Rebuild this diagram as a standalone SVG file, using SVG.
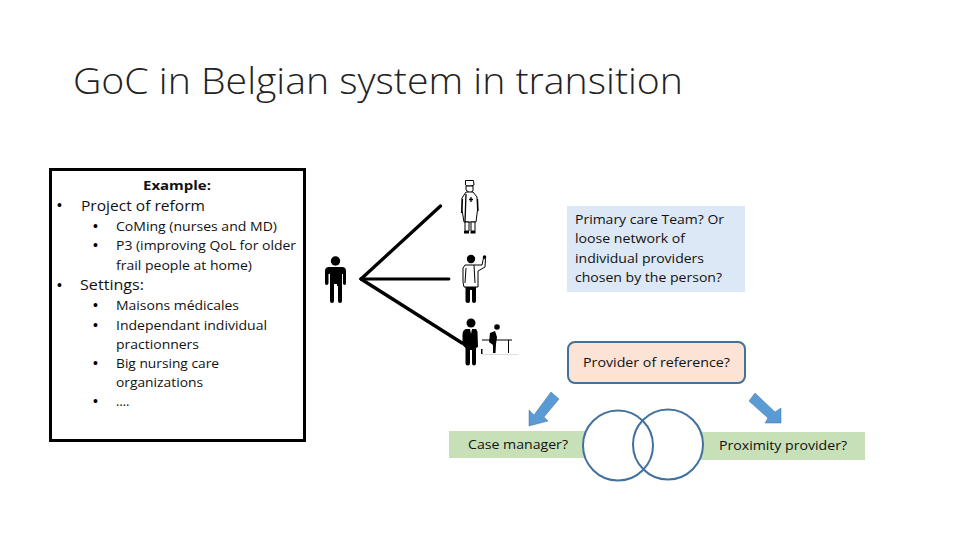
<svg xmlns="http://www.w3.org/2000/svg" width="960" height="540" viewBox="0 0 960 540">
<style>
text{font-family:"Open Sans","Liberation Sans",sans-serif;fill:#111}
.t{font-size:13px}
.h{font-size:15px}
.b{font-family:"Liberation Sans",sans-serif;font-size:14px;fill:#000}
.k{fill:#000}
.w{fill:#fff;stroke:#000;stroke-width:1}
.c{fill:none;stroke:#41719c;stroke-width:2}
.a{fill:#5b9bd5;stroke:#41719c;stroke-width:.5}
.g{fill:#c7e0b8}
</style>
<rect width="960" height="540" fill="#fff"/>
<g id="title"><text x="73" y="94" font-size="37" font-weight="300" textLength="610" lengthAdjust="spacingAndGlyphs" style="fill:#222">GoC in Belgian system in transition</text></g>
<g id="example-box">
<rect x="50.500" y="169.500" width="254" height="271" fill="#fff" stroke="#000" stroke-width="3"/>
<text x="143" y="190" class="t" font-weight="700" textLength="68" lengthAdjust="spacingAndGlyphs">Example:</text>
<text x="57" y="210" class="b">•</text><text x="81" y="211" class="h" textLength="124" lengthAdjust="spacingAndGlyphs">Project of reform</text>
<text x="93" y="231" class="b">•</text><text x="116" y="231" class="t" textLength="161" lengthAdjust="spacingAndGlyphs">CoMing (nurses and MD)</text>
<text x="93" y="250" class="b">•</text><text x="116" y="250" class="t" textLength="180" lengthAdjust="spacingAndGlyphs">P3 (improving QoL for older</text>
<text x="116" y="270" class="t" textLength="136" lengthAdjust="spacingAndGlyphs">frail people at home)</text>
<text x="57" y="290" class="b">•</text><text x="80" y="290" class="h" textLength="64" lengthAdjust="spacingAndGlyphs">Settings:</text>
<text x="93" y="310" class="b">•</text><text x="116" y="310" class="t" textLength="123" lengthAdjust="spacingAndGlyphs">Maisons médicales</text>
<text x="93" y="330" class="b">•</text><text x="116" y="330" class="t" textLength="151" lengthAdjust="spacingAndGlyphs">Independant individual</text>
<text x="116" y="349" class="t" textLength="83" lengthAdjust="spacingAndGlyphs">practionners</text>
<text x="93" y="368" class="b">•</text><text x="116" y="368" class="t" textLength="103" lengthAdjust="spacingAndGlyphs">Big nursing care</text>
<text x="116" y="387" class="t" textLength="87" lengthAdjust="spacingAndGlyphs">organizations</text>
<text x="93" y="406" class="b">•</text><text x="116" y="406" class="t">….</text>
</g>
<g id="connectors" fill="none" stroke="#000" stroke-linecap="round">
<path d="M361 279L440.500 206" stroke-width="3.300"/>
<path d="M361 279L449 279" stroke-width="2.800"/>
<path d="M361 279L462 343" stroke-width="3.300"/>
</g>
<g id="patient" class="k">
<circle cx="335.500" cy="261" r="4.700"/>
<path d="M329 267H342Q346 267 346 271V283Q346 285 344.500 285Q343 285 343 283V274H342V301Q342 303 340 303Q338 303 338 301V286H337V284H334V301Q334 303 332 303Q330 303 330 301V274H328.500V283Q328.500 285 326.500 285Q325 285 325 283V271Q325 267 329 267Z"/>
</g>
<g id="nurse">
<path class="w" d="M465.500 180.500H473.500L474 185L471 186H467L465.500 185Z"/>
<path class="w" d="M466 186L473 186L473 191L470 193L466 190Z"/>
<path class="w" d="M466 192L473 192L477 197L477.500 210L476 222H464L462 210L462 198Z"/>
<path fill="none" stroke="#000" stroke-width="1.300" d="M462.500 199L461.500 213M477.500 199L478 211M471 197V202M469 199.500H473M466 194L465 222"/>
<path class="w" d="M465 222H469V231H465ZM471 222H475V231H471Z"/>
<path class="k" d="M464 231H469V233.500H464ZM470.500 231H475.500V233.500H470.500Z"/>
</g>
<g id="doctor">
<circle cx="471" cy="259" r="4.200" class="k"/>
<path class="w" d="M465 265H477L482 265L483.500 258L485.500 258.500L485 267L478 271V287H464L463 282V268Z"/>
<path fill="none" stroke="#000" d="M466 268L465 283M474 265L475 283"/>
<path class="k" d="M465.500 287H476V301Q476 303 474 303Q472 303 472 301V290H470V301Q470 303 468 303Q465.500 303 465.500 301Z"/>
<circle cx="484.500" cy="257" r="1.800" class="k"/>
</g>
<g id="professional" class="k">
<circle cx="471" cy="323" r="4.500"/>
<path d="M466 329H476Q477 330 477.500 332L478 347L476 348V363Q476 365.500 474 365.500Q472 365.500 472 363V350H470V363Q470 365.500 468 365.500Q465.500 365.500 465.500 363V348L462.500 345V335Q462.500 330 466 329Z"/>
<path d="M470 329H472L471 334Z" fill="#fff"/>
<circle cx="497" cy="327" r="2.800"/>
<path d="M490 333L495 331L497 337L496 344L495.500 353H493L493 345L489 342Z"/>
<path fill="none" stroke="#000" d="M482 340H512M508.500 340V353"/>
<path d="M481 349H482.500V354H481Z"/>
<path d="M482 354.500H518" stroke="#ddd" stroke-width="1"/>
</g>
<g id="team-note">
<rect x="567" y="206" width="178" height="86" fill="#dce8f5"/>
<text x="575" y="224" class="t" textLength="149" lengthAdjust="spacingAndGlyphs">Primary care Team? Or</text>
<text x="575" y="243" class="t" textLength="110" lengthAdjust="spacingAndGlyphs">loose network of</text>
<text x="575" y="263" class="t" textLength="129" lengthAdjust="spacingAndGlyphs">individual providers</text>
<text x="575" y="282" class="t" textLength="147" lengthAdjust="spacingAndGlyphs">chosen by the person?</text>
</g>
<g id="provider-of-reference">
<rect x="568" y="342" width="177" height="41" rx="7" fill="#fbe3d6" stroke="#41719c" stroke-width="2"/>
<text x="583" y="367" class="t" textLength="147" lengthAdjust="spacingAndGlyphs">Provider of reference?</text>
</g>
<g id="arrow-left"><path class="a" d="M551 392L559 399L544 417L548 421L529 426L529 410L534 415Z"/></g>
<g id="arrow-right"><path class="a" d="M755 393L749 401L768 418L765 423L781 423L781 408L775 412Z"/></g>
<g id="case-manager">
<rect x="449" y="431" width="140" height="27" class="g"/>
<text x="468" y="449" class="t" textLength="100" lengthAdjust="spacingAndGlyphs">Case manager?</text>
</g>
<g id="proximity-provider">
<rect x="700" y="432" width="165" height="28" class="g"/>
<text x="719" y="450" class="t" textLength="128" lengthAdjust="spacingAndGlyphs">Proximity provider?</text>
</g>
<g id="overlap">
<circle cx="618" cy="445.500" r="35" fill="#fff" stroke="none"/>
<circle cx="668" cy="444.500" r="35" fill="#fff" stroke="none"/>
<circle cx="618" cy="445.500" r="35" class="c"/>
<circle cx="668" cy="444.500" r="35" class="c"/>
</g>
</svg>
